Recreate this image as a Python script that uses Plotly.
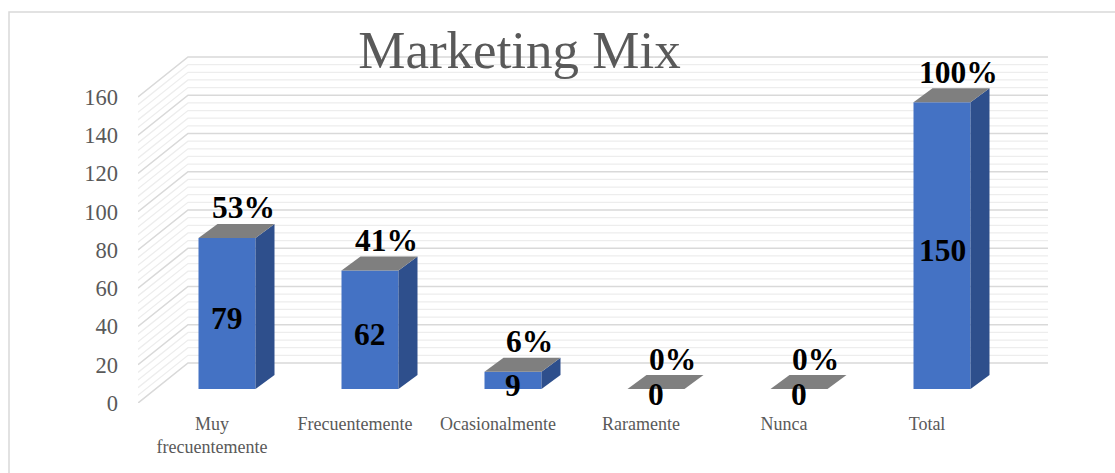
import plotly.graph_objects as go

# ---------------- data ----------------
categories = ["Muy<br>frecuentemente", "Frecuentemente", "Ocasionalmente", "Raramente", "Nunca", "Total"]
values = [79, 62, 9, 0, 0, 150]
percents = [53, 41, 6, 0, 0, 100]
y_ticks = [0, 20, 40, 60, 80, 100, 120, 140, 160]
title_text = "Marketing Mix"

# ---------------- layout geometry (pixels) ----------------
W, H = 1115, 473
PL, PR, PT, PB = 138, 1048, 50, 403      # plot rectangle (front floor edge at PB)
K = 1.9125                               # px per value unit
S = 143.0                                # px per category
LABEL_X0 = 212                           # px of first category label
BAR_X0 = 227                             # px of first bar front centre
BAR_LIFT = 14                            # bar baseline above front edge (px)
WALL_DX, WALL_DY = 50, 40                # depth of the back wall (px)
BAR_DX, BAR_DY = 19, 14                  # depth of each bar (px)
BAR_W = 57                               # bar front width (px)

FRONT = "#4472C4"
SIDE = "#2E4F8C"
TOP = "#7F7F7F"
GRID_MAJ = "#D9D9D9"
GRID_MIN = "#EDEDED"
TXT = "#595959"
FONT = "Liberation Serif, Times New Roman, serif"
LBL_SIZE = 31.5

x_lo, x_hi = (PL - LABEL_X0) / S, (PR - LABEL_X0) / S
y_lo, y_hi = 0.0, (PB - PT) / K
x2_lo, x2_hi = (PL - BAR_X0) / S, (PR - BAR_X0) / S
y2_lo, y2_hi = -BAR_LIFT / K, (PB - BAR_LIFT - PT) / K

fig = go.Figure()

# ---------------- walls (main axes = front scale) ----------------
wdx, wdy = WALL_DX / S, WALL_DY / K
top_v = max(y_ticks)
minor_vals = [v for v in range(0, top_v + 1, 4) if v % 20 != 0]
for vals, col, wid in ((minor_vals, GRID_MIN, 1.3), (y_ticks, GRID_MAJ, 1.6)):
    xs, ys = [], []
    for v in vals:
        xs += [x_lo, x_lo + wdx, x_hi, None]
        ys += [v, v + wdy, v + wdy, None]
    fig.add_trace(go.Scatter(x=xs, y=ys, mode="lines", line=dict(color=col, width=wid),
                             hoverinfo="skip", showlegend=False, xaxis="x", yaxis="y"))

# ---------------- bars (overlay axes = bar scale) ----------------
bw = BAR_W / S
bdx, bdy = BAR_DX / S, BAR_DY / K
xs_cat = list(range(len(values)))
fig.add_trace(go.Bar(x=xs_cat, y=values, width=bw, marker=dict(color=FRONT, line=dict(width=0)),
                     xaxis="x2", yaxis="y2", showlegend=False, hoverinfo="skip"))
for i, v in zip(xs_cat, values):
    r = i + bw / 2
    l = i - bw / 2
    if v > 0:
        fig.add_trace(go.Scatter(x=[r, r + bdx, r + bdx, r, r], y=[0, bdy, v + bdy, v, 0],
                                 mode="lines", fill="toself", fillcolor=SIDE, line=dict(width=0, color=SIDE),
                                 xaxis="x2", yaxis="y2", showlegend=False, hoverinfo="skip"))
    fig.add_trace(go.Scatter(x=[l, r, r + bdx, l + bdx, l], y=[v, v, v + bdy, v + bdy, v],
                             mode="lines", fill="toself", fillcolor=TOP, line=dict(width=0, color=TOP),
                             xaxis="x2", yaxis="y2", showlegend=False, hoverinfo="skip"))

annotations = []
# value labels inside bars (centre of the front face)
for i, v in zip(xs_cat, values):
    annotations.append(dict(x=i, y=v / 2, xref="x2", yref="y2", text=f"<b>{v}</b>", showarrow=False,
                            xanchor="center", yanchor="middle", yshift=-5,
                            font=dict(family=FONT, size=LBL_SIZE, color="black")))
# percentage labels above bars
for i, v, p in zip(xs_cat, values, percents):
    annotations.append(dict(x=i, y=v, xref="x2", yref="y2", text=f"<b>{p}%</b>", showarrow=False,
                            xanchor="center", yanchor="middle", xshift=16, yshift=30,
                            font=dict(family=FONT, size=LBL_SIZE, color="black")))

# ---------------- border ----------------
def px_x(px):
    return (px - PL) / (PR - PL)

def px_y(py):
    return (PB - py) / (PB - PT)

shapes = [dict(type="rect", xref="paper", yref="paper", x0=px_x(9), x1=px_x(W + 10),
               y0=px_y(H + 10), y1=px_y(12), line=dict(color=GRID_MAJ, width=1.5), layer="below")]

fig.update_layout(
    width=W, height=H,
    margin=dict(l=PL, r=W - PR, t=PT, b=H - PB, pad=0),
    paper_bgcolor="white", plot_bgcolor="rgba(0,0,0,0)",
    title=dict(text=title_text, x=519.5 / W, xanchor="center", y=1 - 49 / H, yanchor="middle",
               xref="container", yref="container", font=dict(family=FONT, size=53, color=TXT)),
    xaxis=dict(range=[x_lo, x_hi], tickvals=xs_cat, ticktext=categories, showgrid=False,
               zeroline=False, showline=False, ticks="", ticklabelstandoff=8,
               tickfont=dict(family=FONT, size=18, color=TXT), fixedrange=True),
    yaxis=dict(range=[y_lo, y_hi], tickvals=y_ticks, showgrid=False, zeroline=False, showline=False,
               ticks="", ticklabelstandoff=19, tickfont=dict(family=FONT, size=22.5, color=TXT),
               fixedrange=True),
    xaxis2=dict(range=[x2_lo, x2_hi], overlaying="x", visible=False, fixedrange=True),
    yaxis2=dict(range=[y2_lo, y2_hi], overlaying="y", visible=False, fixedrange=True),
    annotations=annotations,
    shapes=shapes,
    showlegend=False,
)

fig.write_html("out.html")
